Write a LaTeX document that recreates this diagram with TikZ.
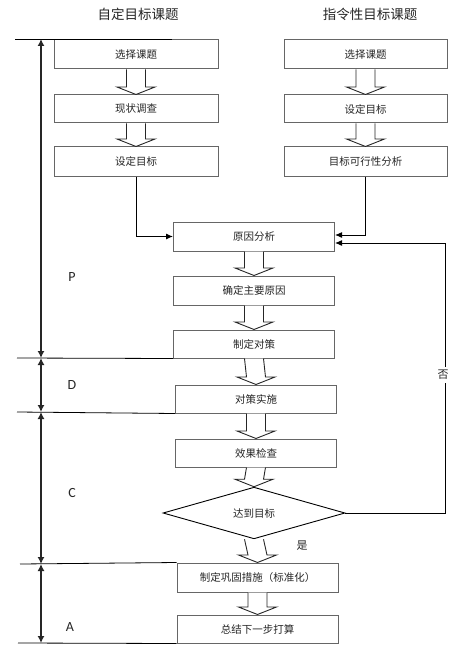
\documentclass[tikz,border=0pt]{standalone}
\usepackage{fontspec}
\setmainfont{Carlito}
\newfontfamily\cjk{Noto Sans CJK SC}
\usetikzlibrary{arrows.meta,calc,shapes.geometric}
\newcommand\hollowarrow[2]{%
  \path[harrow] ($(#1.south)+(-9.5,0)$) -- ($(#2.north)+(-9.5,-7.5)$) -- ($(#2.north)+(-19,-7.5)$)
    -- (#2.north) -- ($(#2.north)+(19,-7.5)$) -- ($(#2.north)+(9.5,-7.5)$) -- ($(#1.south)+(9.5,0)$);}
\begin{document}
\begin{tikzpicture}[x=1pt,y=-1pt,
  box/.style={draw=black!60, line width=1pt, fill=white, inner sep=0pt,
    text=black!85, font=\cjk\fontsize{10.5}{12}\selectfont},
  lbox/.style={box, minimum width=164pt},
  rbox/.style={box, minimum width=163pt},
  mbox/.style={box, minimum width=161pt},
  harrow/.style={draw=black!85, line width=0.9pt, fill=white},
  conn/.style={draw=black, line width=1pt, -{Latex[length=7pt,width=6pt]}},
  sep/.style={draw=black, line width=0.8pt},
  dbl/.style={draw=black!85, line width=1.3pt, {Latex[length=7pt,width=7pt]}-{Latex[length=7pt,width=7pt]}},
  head/.style={font=\cjk\fontsize{13.5}{15}\selectfont, text=black!85},
  phase/.style={font=\fontsize{14}{16}\selectfont, text=black!85},
  cjklbl/.style={font=\cjk\fontsize{11}{13}\selectfont, text=black!85, inner sep=3pt}
]
\useasboundingbox (0,0) rectangle (471,655);

% headings
\node[head] (h1) at (138,14) {自定目标课题};
\node[head] (h2) at (370,14) {指令性目标课题};

% left column
\node[lbox, minimum height=29pt] (l1) at (136,54.5) {选择课题};
\node[lbox, minimum height=28pt] (l2) at (136,109) {现状调查};
\node[lbox, minimum height=29pt] (l3) at (136,161.5) {设定目标};

% right column
\node[rbox, minimum height=29pt] (r1) at (365.5,54.5) {选择课题};
\node[rbox, minimum height=28pt] (r2) at (365.5,109) {设定目标};
\node[rbox, minimum height=29pt] (r3) at (365.5,161.5) {目标可行性分析};

% middle
\node[mbox, minimum height=29pt] (m1) at (254,236.5) {原因分析};
\node[mbox, minimum height=29pt] (m2) at (254,290.5) {确定主要原因};
\node[mbox, minimum height=28pt] (m3) at (254,344) {制定对策};
\node[mbox, minimum height=28pt] (m4) at (256,399) {对策实施};
\node[mbox, minimum height=28pt] (m5) at (256,453) {效果检查};
\node[diamond, draw=black, line width=0.9pt, fill=white, inner sep=0pt,
      minimum width=182pt, minimum height=50pt, text=black!85,
      font=\cjk\fontsize{10.5}{12}\selectfont] (dia) at (254,513) {达到目标};
\node[mbox, minimum height=29pt] (m6) at (257.5,577.5) {制定巩固措施（标准化）};
\node[mbox, minimum height=28pt] (m7) at (257.5,629) {总结下一步打算};

% hollow arrows
\hollowarrow{l1}{l2}
\hollowarrow{l2}{l3}
\hollowarrow{r1}{r2}
\hollowarrow{r2}{r3}
\hollowarrow{m1}{m2}
\hollowarrow{m2}{m3}
\hollowarrow{m3}{m4}
\hollowarrow{m4}{m5}
\hollowarrow{m5}{dia}
\hollowarrow{dia}{m6}
\hollowarrow{m6}{m7}

% connectors into cause analysis
\draw[conn] (l3.south) |- (m1.west);
\draw[conn] (r3.south) |- ([yshift=1.5pt]m1.east);
\coordinate (nocorner) at (445,513);
\draw[conn] (dia.east) -- (nocorner) |- ([yshift=-6.5pt]m1.east);
\node[cjklbl, fill=white] (no) at (443,375) {否};
\node[cjklbl] (yes) at (302,546) {是};

% phase separators
\coordinate (s0a) at (15,39);   \coordinate (s0b) at (172,39);
\coordinate (s1a) at (17,358);
\coordinate (s2a) at (17,412);
\coordinate (s3a) at (20,564);
\coordinate (s4a) at (18,643);
\draw[sep] (s0a) -- (s0b);
\draw[sep] (s1a) -- (m3.south west);
\draw[sep] (s2a) -- (m4.south west);
\draw[sep] (s3a) -- (m6.north west);
\draw[sep] (s4a) -- (m7.south west);

% phase arrows
\coordinate (p0) at (41,39);
\coordinate (p1) at (41,358);
\coordinate (p2) at (41,412);
\coordinate (p3) at (41,564);
\coordinate (p4) at (41,643);
\draw[dbl] (p0) -- (p1);
\draw[dbl] (p1) -- (p2);
\draw[dbl] (p2) -- (p3);
\draw[dbl] (p3) -- (p4);

\node[phase] (P) at (72,277) {P};
\node[phase] (D) at (72,385) {D};
\node[phase] (C) at (72,493) {C};
\node[phase] (A) at (70,627) {A};
\end{tikzpicture}
\end{document}
